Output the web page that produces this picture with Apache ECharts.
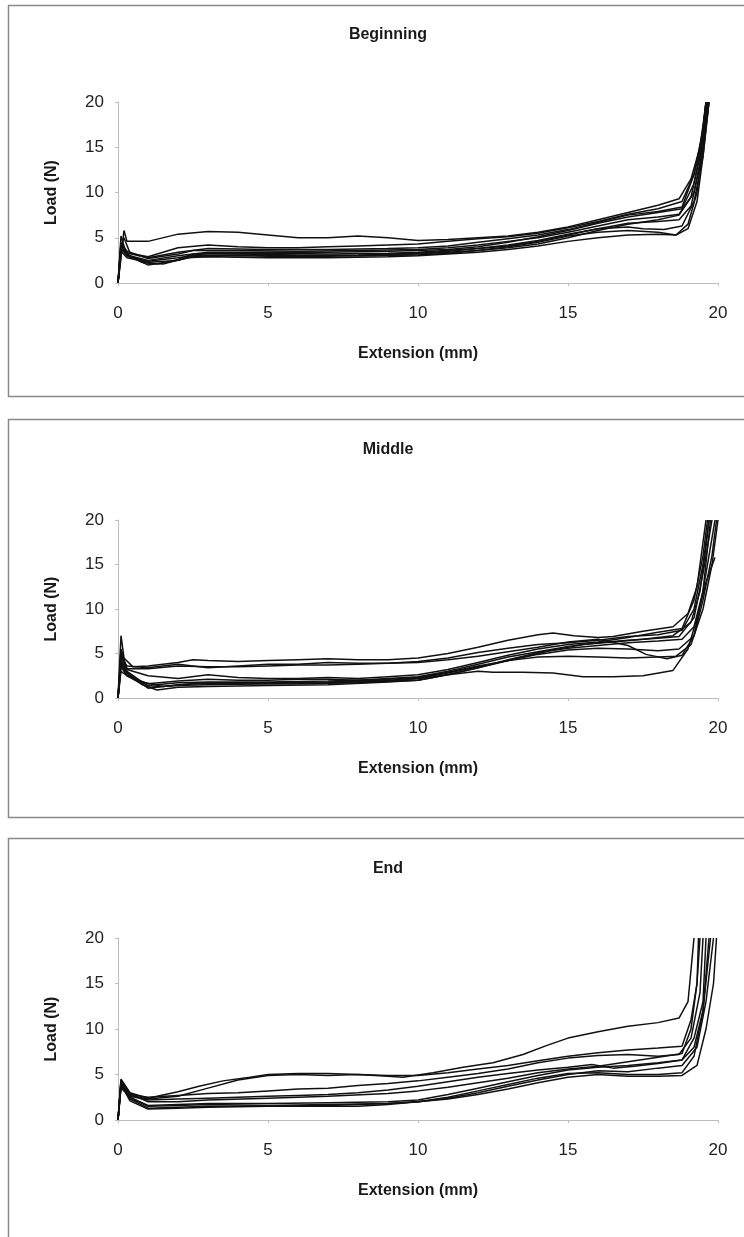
<!DOCTYPE html>
<html>
<head>
<meta charset="utf-8">
<script src="https://cdn.jsdelivr.net/npm/echarts@6/dist/echarts.min.js"></script>
<style>
html,body{margin:0;padding:0;background:#fff;}
#chart{width:744px;height:1237px;}
</style>
</head>
<body>
<div id="chart"></div>
<script>
// ---- Data (Extension mm, Load N) ----
const panelTitles = ["Beginning", "Middle", "End"];
const xTicks = [0, 5, 10, 15, 20];
const yTicks = [0, 5, 10, 15, 20];
const xAxisName = "Extension (mm)";
const yAxisName = "Load (N)";

const beginningCurves = [
  [[0,0],[0.1,3],[0.2,5.8],[0.3,4.6],[1,4.6],[2,5.4],[3,5.7],[4,5.6],[5,5.3],[6,5.0],[7,5.0],[8,5.2],[9,5.0],[10,4.7],[11,4.8],[12,5.0],[13,5.2],[14,5.6],[15,6.2],[16,7.0],[17,7.8],[18,8.6],[18.7,9.3],[19.1,11.5],[19.4,15],[19.6,20]],
  [[0,0],[0.1,4],[0.2,5],[0.4,3.3],[1,2.9],[2,3.9],[3,4.2],[4,4.0],[5,3.9],[6,3.9],[7,4.0],[8,4.1],[9,4.2],[10,4.3],[11,4.6],[12,4.9],[13,5.1],[14,5.5],[15,6.1],[16,6.8],[17,7.6],[18,8.2],[18.8,9.0],[19.2,12],[19.5,16],[19.65,20]],
  [[0,0],[0.1,4.5],[0.3,3.2],[0.8,2.3],[1.3,2.1],[2,2.6],[2.5,3.2],[4,3.2],[6,3.1],[8,3.0],[10,3.2],[11,3.4],[12,3.6],[13,3.9],[14,4.3],[15,5.0],[16,5.8],[17,6.5],[18,7.0],[18.7,7.5],[19.2,10],[19.5,15],[19.65,20]],
  [[0,0],[0.1,3.8],[0.3,3.0],[1,2.4],[2,2.8],[3,3.3],[5,3.3],[7,3.2],[9,3.3],[10,3.4],[12,3.8],[13,4.2],[14,4.7],[15,5.4],[16,6.0],[17,6.2],[17.5,6.0],[18.2,5.9],[18.8,6.3],[19.2,9],[19.5,14],[19.7,20]],
  [[0,0],[0.15,4.2],[0.4,2.9],[1,2.2],[1.5,2.1],[2.3,2.8],[3,2.9],[5,2.8],[7,2.8],[9,2.9],[10,3.0],[11,3.2],[12,3.4],[13,3.7],[14,4.1],[15,4.6],[16,5.0],[17,5.3],[18,5.4],[18.6,5.3],[19.0,6.5],[19.3,10],[19.5,15],[19.7,20]],
  [[0,0],[0.1,4.4],[0.3,3.5],[1,2.7],[2,3.2],[2.5,3.6],[4,3.6],[6,3.5],[8,3.6],[10,3.7],[11,3.9],[12,4.2],[13,4.6],[14,5.0],[15,5.6],[16,6.3],[17,7.0],[18,7.3],[18.7,7.6],[19.1,9.5],[19.4,14],[19.6,20]],
  [[0,0],[0.1,3.5],[0.3,2.8],[1,2.3],[2,2.5],[2.5,2.9],[4,3.0],[6,2.9],[8,3.0],[10,3.1],[11,3.3],[12,3.6],[13,4.0],[14,4.5],[15,5.2],[16,5.6],[17,5.8],[18,5.6],[18.6,5.3],[19.0,6.0],[19.3,9],[19.5,14],[19.7,20]],
  [[0,0],[0.1,3.9],[0.3,3.1],[1,2.5],[2,3.0],[3,3.4],[5,3.4],[7,3.4],[9,3.5],[10,3.6],[11,3.7],[12,4.0],[13,4.5],[14,5.1],[15,5.8],[16,6.6],[17,7.3],[18,7.8],[18.8,8.2],[19.2,11],[19.5,16],[19.65,20]],
  [[0,0],[0.1,5.2],[0.3,3.0],[1,2.0],[2,2.5],[2.5,3.0],[4,3.1],[6,3.0],[8,3.1],[10,3.3],[11,3.5],[12,3.8],[13,4.1],[14,4.6],[15,5.3],[16,6.0],[17,6.6],[18,6.8],[18.7,7.0],[19.1,8.5],[19.4,13],[19.6,20]],
  [[0,0],[0.1,4.0],[0.3,3.3],[1,2.8],[2,3.4],[3,3.8],[5,3.7],[7,3.7],[9,3.8],[10,3.9],[11,4.1],[12,4.5],[13,4.9],[14,5.3],[15,5.9],[16,6.7],[17,7.5],[18,7.9],[18.8,8.4],[19.2,12],[19.5,17],[19.6,20]]
];

const middleCurves = [
  [[0,0],[0.1,7],[0.2,4.5],[0.5,3.5],[1,3.6],[2,4.0],[2.5,4.3],[3,4.2],[4,4.1],[5,4.2],[6,4.3],[7,4.4],[8,4.3],[9,4.3],[10,4.5],[11,5.0],[12,5.7],[13,6.5],[14,7.1],[14.5,7.3],[15.2,7.0],[16,6.8],[16.5,6.9],[17.5,7.5],[18.5,8.0],[19.0,9.5],[19.3,12.5],[19.6,20]],
  [[0,0],[0.1,5],[0.3,3.3],[1,3.3],[2,3.6],[3,3.5],[4,3.5],[5,3.6],[6,3.7],[7,3.7],[8,3.8],[9,3.9],[10,4.0],[11,4.3],[12,4.7],[13,5.2],[14,5.7],[15,6.3],[16,6.6],[17,5.9],[17.6,4.9],[18.3,4.4],[18.8,4.8],[19.2,7],[19.5,12],[19.75,20]],
  [[0,0],[0.1,4.5],[0.3,3.6],[1,3.4],[2,3.8],[3,3.4],[4,3.6],[5,3.8],[6,3.8],[7,4.0],[8,3.9],[9,3.9],[10,4.1],[11,4.5],[12,5.1],[13,5.6],[14,6.0],[15,6.2],[16,6.5],[17,6.9],[18,7.1],[18.8,7.6],[19.2,10],[19.5,15],[19.7,20]],
  [[0,0],[0.1,4],[0.3,2.8],[0.8,1.5],[1.3,0.9],[2,1.2],[3,1.3],[5,1.4],[7,1.5],[9,1.8],[10,2.0],[10.5,2.3],[11.5,3.0],[12.5,3.8],[13.5,4.6],[14.5,5.4],[15.5,6.0],[16.5,6.3],[17.5,6.6],[18.5,7.0],[19.1,8.5],[19.4,12],[19.6,17],[19.7,20]],
  [[0,0],[0.1,3.5],[0.3,2.5],[1,1.6],[2,1.9],[3,2.1],[4,2.0],[5,2.0],[6,2.1],[7,2.1],[8,2.0],[9,2.2],[10,2.4],[11,3.0],[12,3.8],[13,4.6],[14,5.2],[15,5.8],[16,6.2],[17,6.5],[18,6.7],[18.7,6.9],[19.2,9],[19.5,14],[19.8,20]],
  [[0,0],[0.1,4.2],[0.3,3],[0.8,1.8],[1.5,1.3],[2.5,1.6],[4,1.6],[6,1.6],[8,1.7],[10,2.0],[11,2.6],[12,3.4],[13,4.3],[14,5.1],[15,5.6],[16,5.9],[17,6.2],[18,6.4],[18.8,6.6],[19.2,8],[19.5,12],[19.8,18],[19.9,20]],
  [[0,0],[0.1,3],[0.3,2.5],[1,1.2],[2,1.4],[3,1.5],[5,1.6],[7,1.7],[9,1.9],[10,2.2],[11,2.6],[12,3.0],[12.5,2.9],[13.5,2.9],[14.5,2.8],[15.5,2.4],[16.5,2.4],[17.5,2.5],[18.5,3.1],[19.0,5.5],[19.3,9],[19.6,13],[19.9,15.8]],
  [[0,0],[0.1,3.8],[0.3,2.6],[1,1.4],[2,1.7],[3,1.8],[5,1.8],[7,1.9],[9,2.1],[10,2.3],[11,2.9],[12,3.6],[13,4.2],[14,4.6],[15,4.7],[16,4.6],[17,4.5],[18,4.6],[18.6,4.7],[19.1,6],[19.5,10],[19.8,15],[20,20]],
  [[0,0],[0.1,4.8],[0.3,2.9],[1,1.1],[2,1.5],[3,1.7],[5,1.7],[7,1.8],[9,2.0],[10,2.2],[11,2.8],[12,3.5],[13,4.2],[14,4.9],[15,5.4],[16,5.6],[17,5.5],[18,5.3],[18.7,5.5],[19.2,7],[19.5,11],[19.8,16],[19.95,20]],
  [[0,0],[0.1,5.5],[0.3,3.2],[1,2.5],[2,2.2],[3,2.6],[4,2.3],[5,2.2],[6,2.2],[7,2.3],[8,2.2],[9,2.4],[10,2.6],[11,3.2],[12,4.0],[13,4.8],[14,5.5],[15,6.0],[16,6.3],[17,6.8],[18,7.4],[18.8,7.8],[19.2,11],[19.5,16],[19.65,20]]
];

const endCurves = [
  [[0,0],[0.1,4.5],[0.4,3],[1,2.4],[2,3.1],[2.7,3.7],[3.5,4.3],[4.4,4.7],[5,5.0],[6,5.1],[7,5.1],[8,5.0],[9,4.8],[9.5,4.7],[10.5,5.2],[11.5,5.8],[12.5,6.3],[13.5,7.2],[14.3,8.2],[15,9.0],[16,9.7],[17,10.3],[18,10.7],[18.7,11.2],[19.0,13],[19.2,20]],
  [[0,0],[0.1,4.2],[0.4,2.7],[1,2.3],[2,2.6],[3,3.5],[4,4.4],[5,4.9],[6,5.0],[7,4.9],[8,5.0],[9,4.9],[10,4.9],[11,5.2],[12,5.6],[13,6.0],[14,6.5],[15,7.0],[16,7.4],[17,7.7],[18,7.9],[18.8,8.1],[19.1,11],[19.3,15],[19.4,20]],
  [[0,0],[0.1,3.8],[0.4,2.8],[1,2.5],[2,2.7],[3,2.9],[4,3.0],[5,3.2],[6,3.4],[7,3.5],[8,3.8],[9,4.0],[10,4.3],[11,4.7],[12,5.1],[13,5.6],[14,6.3],[15,6.8],[16,7.1],[17,7.2],[18,7.0],[18.7,7.2],[19.1,9],[19.4,14],[19.5,20]],
  [[0,0],[0.1,3.5],[0.4,2.6],[1,2.2],[2,2.3],[3,2.4],[4,2.5],[5,2.6],[6,2.7],[7,2.8],[8,3.0],[9,3.3],[10,3.7],[11,4.2],[12,4.7],[13,5.1],[14,5.5],[15,5.8],[15.8,6.1],[16.5,5.7],[17.2,5.9],[18,6.2],[18.8,6.6],[19.2,9],[19.5,13],[19.6,20]],
  [[0,0],[0.1,4.3],[0.4,2.3],[1,1.3],[2,1.4],[3,1.5],[5,1.5],[7,1.5],[8,1.5],[9,1.7],[10,2.0],[11,2.5],[12,3.2],[13,3.9],[14,4.6],[15,5.1],[16,5.2],[17,5.0],[18,5.0],[18.8,5.2],[19.2,7],[19.5,12],[19.7,20]],
  [[0,0],[0.1,3.9],[0.4,2.1],[1,1.2],[2,1.3],[3,1.4],[5,1.5],[7,1.6],[9,1.8],[10,2.0],[11,2.3],[12,2.8],[13,3.4],[14,4.1],[15,4.7],[16,5.0],[17,4.8],[18,4.8],[18.8,4.9],[19.3,6],[19.6,10],[19.85,15],[19.95,20]],
  [[0,0],[0.1,4.0],[0.4,2.5],[1,1.6],[2,1.7],[3,1.8],[5,1.8],[7,1.9],[9,2.0],[10,2.2],[11,2.8],[12,3.5],[13,4.2],[14,4.9],[15,5.5],[16,5.8],[17,6.0],[18,6.3],[18.8,6.6],[19.2,8],[19.5,12],[19.75,20]],
  [[0,0],[0.1,4.4],[0.4,2.9],[1,2.0],[2,2.0],[3,2.2],[5,2.4],[7,2.6],[9,2.9],[10,3.2],[11,3.6],[12,4.1],[13,4.6],[14,5.2],[15,5.6],[16,5.9],[17,6.4],[18,6.9],[18.8,7.3],[19.1,10],[19.3,15],[19.35,20]],
  [[0,0],[0.1,3.7],[0.4,2.4],[1,1.5],[2,1.6],[3,1.7],[5,1.6],[7,1.7],[9,1.8],[10,2.0],[11,2.4],[12,3.0],[13,3.7],[14,4.4],[15,5.0],[16,5.4],[17,5.3],[18,5.7],[18.8,6.0],[19.3,8],[19.6,13],[19.85,20]]
];

const panelCurves = [beginningCurves, middleCurves, endCurves];

// ---- Layout ----
const panelTops = [5, 419, 838];
const panelHeights = [391, 398, 420];
const gridTops = [102, 520, 938];
const gridHeights = [181, 178, 182];
const titleTops = [22, 437, 856];

const FONT = '"Liberation Sans", Arial, sans-serif';
const chart = echarts.init(document.getElementById('chart'), null, {renderer: 'canvas'});

const grids = [], xAxes = [], yAxes = [], series = [], titles = [], graphics = [];
for (let p = 0; p < 3; p++) {
  grids.push({left: 118, top: gridTops[p], width: 600, height: gridHeights[p], containLabel: false});
  titles.push({
    text: panelTitles[p], left: 383, top: titleTops[p], textAlign: 'center',
    textStyle: {fontFamily: FONT, fontWeight: 'bold', fontSize: 16, color: '#1a1a1a'}
  });
  graphics.push({
    type: 'rect', silent: true, z: 0,
    shape: {x: 8.5, y: panelTops[p] + 0.5, width: 780, height: panelHeights[p]},
    style: {fill: 'none', stroke: '#8a8a8a', lineWidth: 1.5}
  });
  xAxes.push({
    type: 'value', gridIndex: p, min: xTicks[0], max: xTicks[xTicks.length - 1], interval: 5,
    name: xAxisName, nameLocation: 'middle', nameGap: 63,
    nameTextStyle: {fontFamily: FONT, fontWeight: 'bold', fontSize: 16, color: '#1a1a1a'},
    axisLine: {show: true, lineStyle: {color: '#bdbdbd', width: 1}},
    axisTick: {show: true, length: 3, lineStyle: {color: '#bdbdbd'}},
    axisLabel: {fontFamily: FONT, fontSize: 17, color: '#222', margin: 22},
    splitLine: {show: false}
  });
  yAxes.push({
    type: 'value', gridIndex: p, min: yTicks[0], max: yTicks[yTicks.length - 1], interval: 5,
    name: yAxisName, nameLocation: 'middle', nameGap: 58, nameRotate: 90,
    nameTextStyle: {fontFamily: FONT, fontWeight: 'bold', fontSize: 16, color: '#1a1a1a'},
    axisLine: {show: true, lineStyle: {color: '#bdbdbd', width: 1}},
    axisTick: {show: true, length: 3, lineStyle: {color: '#bdbdbd'}},
    axisLabel: {fontFamily: FONT, fontSize: 17, color: '#222', margin: 14},
    splitLine: {show: false}
  });
  panelCurves[p].forEach((curve) => {
    series.push({
      type: 'line', xAxisIndex: p, yAxisIndex: p, data: curve,
      showSymbol: false, symbol: 'none', smooth: false,
      lineStyle: {color: '#111111', width: 1.5},
      animation: false, z: 3
    });
  });
}

chart.setOption({
  backgroundColor: '#ffffff',
  animation: false,
  title: titles,
  grid: grids,
  xAxis: xAxes,
  yAxis: yAxes,
  series: series,
  graphic: graphics
});
</script>
</body>
</html>
